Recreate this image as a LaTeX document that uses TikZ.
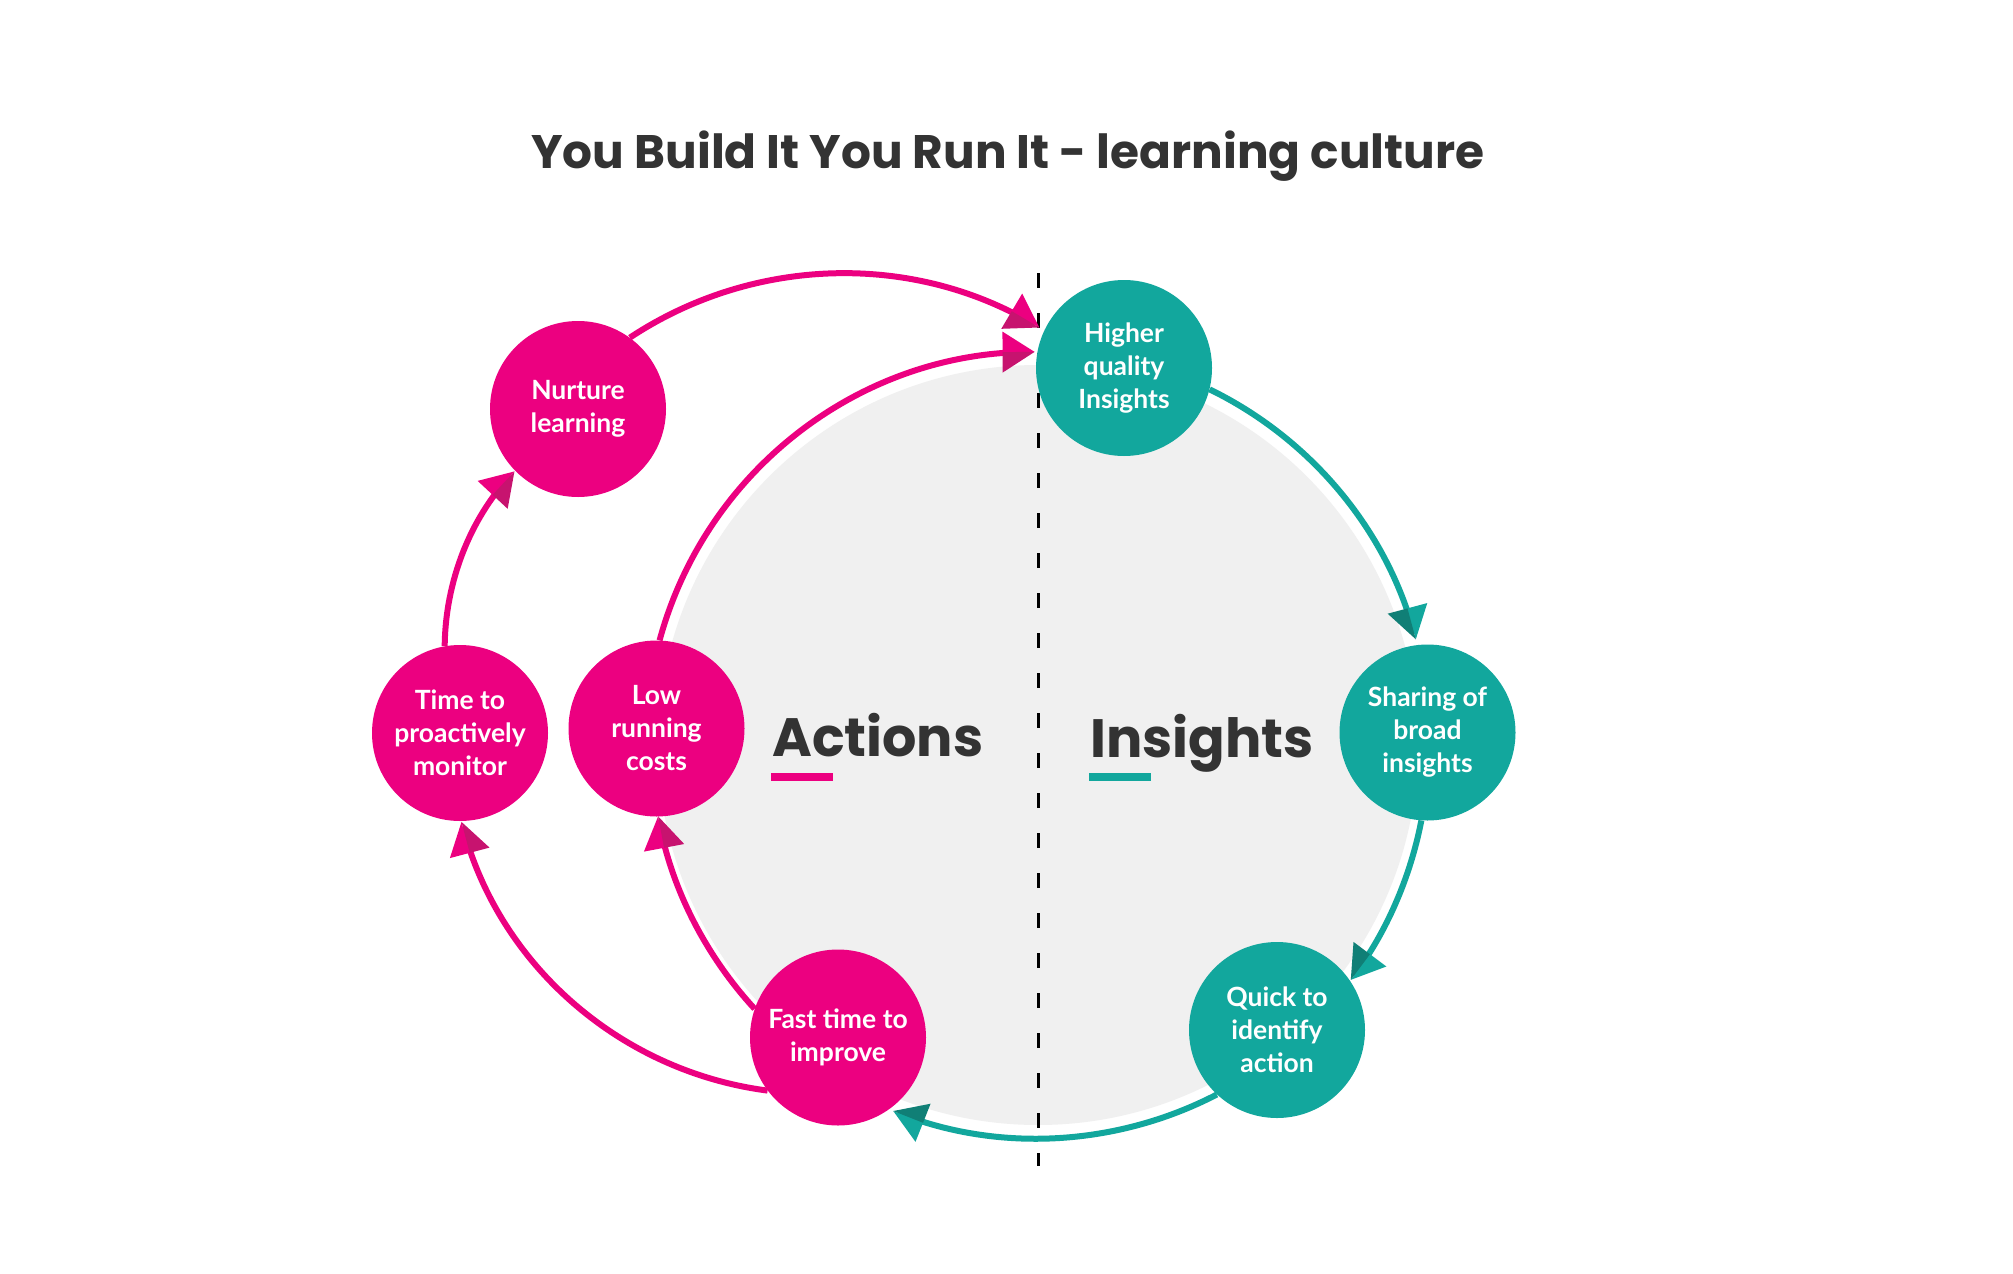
\documentclass[tikz,border=0pt]{standalone}
\usepackage{fontspec}
\usetikzlibrary{decorations.markings}
\newfontfamily\latofont{Lato}
\newfontfamily\headfont{Poppins}
\definecolor{pinkc}{HTML}{EC0080}
\definecolor{pinkdk}{HTML}{C7136F}
\definecolor{tealc}{HTML}{12A79D}
\definecolor{tealdk}{HTML}{107F76}
\definecolor{greyfill}{HTML}{F0F0F0}
\definecolor{darktext}{HTML}{333333}
\tikzset{
  bubble/.style={circle, minimum size=176pt, inner sep=0pt, text=white, align=center,
    font=\latofont\bfseries\fontsize{26.5}{33}\selectfont},
  pinkbubble/.style={bubble, fill=pinkc},
  tealbubble/.style={bubble, fill=tealc},
  tiphalves/.style 2 args={postaction={decorate, decoration={markings,
    mark=at position -0.3pt with {
      \fill[#1] (0pt,0pt) -- (-32pt,20.5pt) -- (-32pt,0pt) -- cycle;
      \fill[#2] (0pt,0pt) -- (-32pt,-20.5pt) -- (-32pt,0pt) -- cycle;}}}},
  pinkflow/.style={draw=pinkc, line width=6pt, shorten >=6pt, tiphalves={pinkc}{pinkdk}},
  tealflow/.style={draw=tealc, line width=6pt, shorten >=6pt, tiphalves={tealc}{tealdk}},
  headline/.style={text=darktext, inner sep=0pt, font=\headfont\bfseries\fontsize{54}{60}\selectfont},
  divider/.style={draw=black, line width=3pt, dash pattern=on 15pt off 25pt},
}
\begin{document}
\begin{tikzpicture}[x=1pt,y=-1pt]
\useasboundingbox (0,0) rectangle (2013,1274);
\fill[white] (0,0) rectangle (2013,1274);
% title
\node[anchor=base, text=darktext, inner sep=0pt,
  font=\headfont\bfseries\fontsize{47}{56}\selectfont] (title) at (1008,168)
  {You Build It You Run It - learning culture};
% central disc
\coordinate (C) at (1038,745);
\node[circle, fill=greyfill, minimum size=760pt, inner sep=0pt] (core) at (C) {};
% divider
\coordinate (dtop) at (1038,273);
\coordinate (dbot) at (1038,1166);
\draw[divider] (dtop) -- (dbot);
% headings
\node[headline, anchor=base west] (actions) at (772,756) {Actions};
\node[headline, anchor=base west] (insights) at (1090,757) {Insights};
\fill[pinkc] (771,773) rectangle (833,781);
\fill[tealc] (1089,773) rectangle (1151,781);
% bubbles
\node[pinkbubble] (nurture) at (578,409) {Nurture\\learning};
\node[tealbubble] (hq) at (1124,368) {Higher\\quality\\Insights};
\node[tealbubble] (share) at (1427.5,732.5) {Sharing of\\broad\\insights};
\node[tealbubble] (quick) at (1277,1030) {Quick to\\identify\\action};
\node[pinkbubble] (fast) at (838,1037.5) {Fast time to\\improve};
\node[pinkbubble] (low) at (656.5,728.5) {Low\\running\\costs};
\node[pinkbubble] (timem) at (460,733) {Time to\\proactively\\monitor};
% connectors
\draw[pinkflow] (low.88) arc[start angle=195.2, end angle=269.7, radius=391];
\draw[tealflow] (hq.-14) arc[start angle=296, end angle=345, radius=391];
\draw[tealflow] (share.266) arc[start angle=11, end angle=36.8, radius=391];
\draw[tealflow] (quick.227) arc[start angle=62.6, end angle=111.6, radius=391];
\draw[pinkflow] (fast.161) arc[start angle=137.4, end angle=169.4, radius=391];
\draw[pinkflow] (nurture.54) arc[start angle=236.5, end angle=300.7, radius=385.6];
\draw[pinkflow] (timem.100) arc[start angle=180.6, end angle=223, radius=260.5];
\draw[pinkflow] (fast.217) arc[start angle=97.4, end angle=165.2, radius=365.3];
\end{tikzpicture}
\end{document}
